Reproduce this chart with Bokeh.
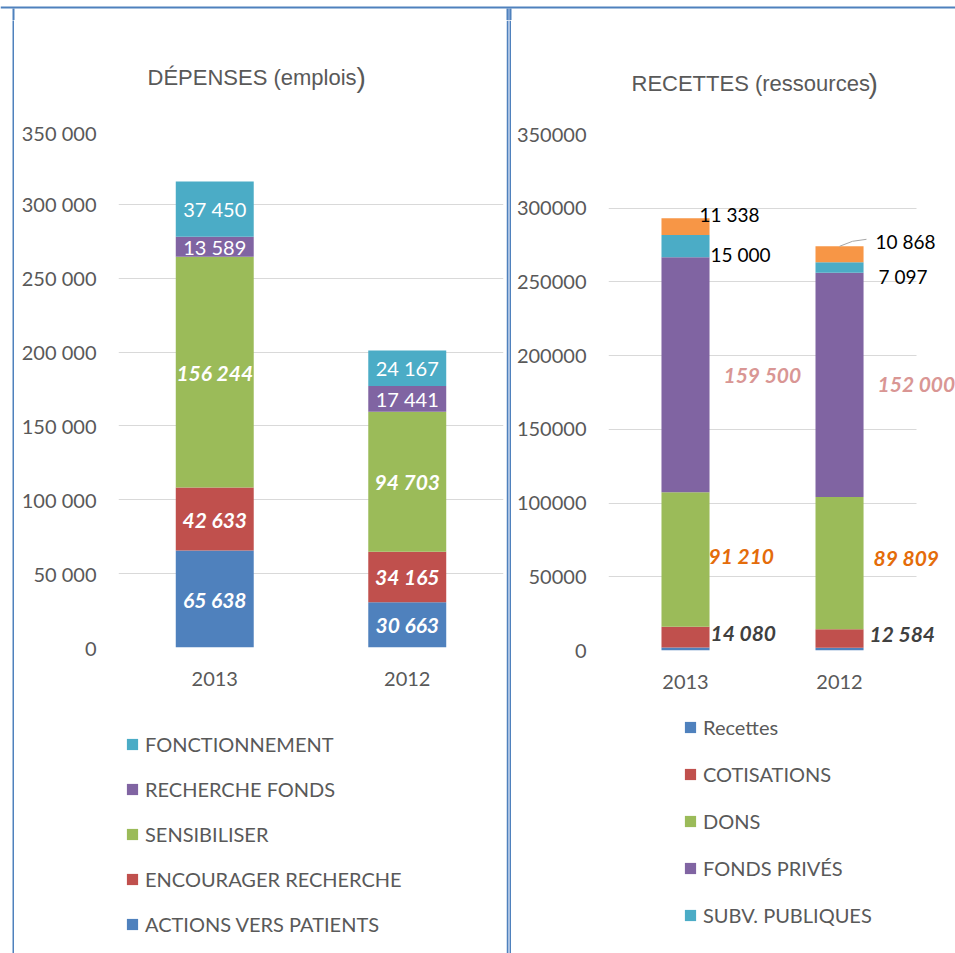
from bokeh.plotting import figure
from bokeh.models import (FactorRange, Range1d, ColumnDataSource, Legend, LegendItem,
                          Label, LabelSet, FixedTicker, BoxAnnotation)
from bokeh.layouts import row, column
from bokeh.embed import file_html
from bokeh.resources import INLINE
from bokeh.core.properties import value

# ---------------- data ----------------
years = ["2013", "2012"]

dep_series = ["ACTIONS VERS PATIENTS", "ENCOURAGER RECHERCHE", "SENSIBILISER",
              "RECHERCHE FONDS", "FONCTIONNEMENT"]
dep_actions = [65638, 30663]
dep_encourager = [42633, 34165]
dep_sensibiliser = [156244, 94703]
dep_recherche_fonds = [13589, 17441]
dep_fonctionnement = [37450, 24167]

rec_series = ["Recettes", "COTISATIONS", "DONS", "FONDS PRIVÉS", "SUBV. PUBLIQUES", "AUTRES"]
rec_recettes = [2000, 1800]
rec_cotisations = [14080, 12584]
rec_dons = [91210, 89809]
rec_fonds_prives = [159500, 152000]
rec_subv_publiques = [15000, 7097]
rec_autres = [11338, 10868]

y_ticks = [0, 50000, 100000, 150000, 200000, 250000, 300000, 350000]
left_tick_labels = ["0", "50 000", "100 000", "150 000", "200 000", "250 000", "300 000", "350 000"]
right_tick_labels = ["0", "50000", "100000", "150000", "200000", "250000", "300000", "350000"]

title_left = "DÉPENSES (emplois"
title_right = "RECETTES (ressources"

# ---------------- styles ----------------
BLUE, RED, GREEN, PURPLE, CYAN, ORANGE = "#4F81BD", "#C0504D", "#9BBB59", "#8064A2", "#4BACC6", "#F79646"
GRAY = "#595959"
GRID = "#D9D9D9"
FRAME = "#4F81BD"
FRAME_LIGHT = "#A9C2E6"
FONT = "Lato"
TFONT = "Liberation Sans"


def fmt(v):
    return f"{v:,}".replace(",", " ")


def centers(series_list):
    base = [0] * len(years)
    out = []
    for s in series_list:
        out.append([b + v / 2 for b, v in zip(base, s)])
        base = [b + v for b, v in zip(base, s)]
    return out


def strip(w, h, bl, br, bt, bb, frame_color, border_color="white"):
    f = figure(width=w, height=h, output_backend="svg", toolbar_location=None, title=None,
               x_axis_type=None, y_axis_type=None, min_border_left=bl, min_border_right=br,
               min_border_top=bt, min_border_bottom=bb)
    f.outline_line_color = None
    f.border_fill_color = border_color
    f.background_fill_color = frame_color
    return f


def box(f, l, r, b, t, color):
    f.add_layout(BoxAnnotation(left=l, right=r, bottom=b, top=t,
                               left_units="screen", right_units="screen",
                               bottom_units="screen", top_units="screen",
                               fill_color=color, fill_alpha=1, line_color=None))


def style(p, tick_labels):
    p.outline_line_color = None
    p.background_fill_color = "white"
    p.border_fill_color = "white"
    p.xgrid.grid_line_color = None
    p.ygrid.grid_line_color = GRID
    p.ygrid.grid_line_width = 1
    p.yaxis.ticker = FixedTicker(ticks=y_ticks)
    p.yaxis.major_label_overrides = {t: l for t, l in zip(y_ticks, tick_labels)}
    for ax in (p.xaxis[0], p.yaxis[0]):
        ax.axis_line_color = None
        ax.major_tick_line_color = None
        ax.minor_tick_line_color = None
        ax.major_tick_out = 0
        ax.major_tick_in = 0
        ax.major_label_text_font = FONT
        ax.major_label_text_font_size = "20px"
        ax.major_label_text_color = GRAY
    p.yaxis.major_label_standoff = 22
    p.xaxis.major_label_standoff = 24


def title_fig(w, h, bl, br, text, x, y, paren_x):
    f = strip(w, h, bl, br, 0, 0, "white")
    f.x_range = Range1d(0, 1)
    f.y_range = Range1d(0, 1)
    f.add_layout(Label(x=x, y=y, x_units="screen", y_units="screen", text=text,
                       text_font=TFONT, text_font_size="22px", text_color=GRAY,
                       text_baseline="alphabetic"))
    f.add_layout(Label(x=paren_x, y=y, x_units="screen", y_units="screen", text=")",
                       text_font=TFONT, text_font_size="28px", text_color=GRAY,
                       text_baseline="alphabetic"))
    return f


def legend_fig(w, h, bl, br, names, colors, loc, spacing):
    f = strip(w, h, bl, br, 0, 0, "white")
    f.x_range = Range1d(0, 1)
    f.y_range = Range1d(0, 1)
    items = []
    for n, c in zip(names, colors):
        r = f.vbar(x=[0], top=[0], bottom=[0], width=0, fill_color=c, line_color=None)
        items.append(LegendItem(label=n, renderers=[r]))
    leg = Legend(items=items, location=loc, orientation="vertical",
                 glyph_width=14, glyph_height=14, label_height=26, spacing=spacing,
                 padding=0, margin=0, border_line_color=None, background_fill_alpha=0,
                 label_text_font=FONT, label_text_font_size="20px",
                 label_text_color=GRAY, label_standoff=6)
    f.add_layout(leg)
    return f


TOP_H = 20
TITLE_H, CHART_H, LEGEND_H = 100, 580, 253
WL, WR = 492, 444
BL_L, BR_L = 104, 3
BL_R, BR_R = 97, 0

# ---------------- left: DÉPENSES ----------------
p1 = figure(x_range=FactorRange(*years), y_range=Range1d(0, 350000), width=WL, height=CHART_H,
            output_backend="svg", toolbar_location=None, title=None,
            min_border_left=BL_L, min_border_right=BR_L, min_border_top=10, min_border_bottom=53)
style(p1, left_tick_labels)

dep_values = [dep_actions, dep_encourager, dep_sensibiliser, dep_recherche_fonds, dep_fonctionnement]
dep_colors = [BLUE, RED, GREEN, PURPLE, CYAN]
keys1 = ["s%d" % i for i in range(len(dep_values))]
src1 = ColumnDataSource(dict(year=years, **{k: v for k, v in zip(keys1, dep_values)}))
p1.vbar_stack(keys1, x="year", width=0.405, fill_color=dep_colors, line_color=None, source=src1)

c1 = centers(dep_values)
bold_x, bold_y, bold_t, reg_x, reg_y, reg_t = [], [], [], [], [], []
for i, (vals, cen) in enumerate(zip(dep_values, c1)):
    for y, v, c in zip(years, vals, cen):
        if i < 3:
            bold_x.append(y); bold_y.append(c); bold_t.append(fmt(v))
        else:
            reg_x.append(y); reg_y.append(c); reg_t.append(fmt(v))
p1.text(x="x", y="y", text="t", source=ColumnDataSource(dict(x=bold_x, y=bold_y, t=bold_t)),
        text_align="center", text_baseline="middle", text_color="white",
        text_font=value(FONT), text_font_style="bold italic", text_font_size="21px")
p1.text(x="x", y="y", text="t", source=ColumnDataSource(dict(x=reg_x, y=reg_y, t=reg_t)),
        text_align="center", text_baseline="middle", text_color="white",
        text_font=value(FONT), text_font_size="20px")

t1 = title_fig(WL, TITLE_H, BL_L, BR_L, title_left, 29, 43, 238)
l1 = legend_fig(WL, LEGEND_H, BL_L, BR_L, list(reversed(dep_series)), list(reversed(dep_colors)),
                (7, 16), 19)

# ---------------- right: RECETTES ----------------
X_END_R = 2.253
rec_x = [i + 0.5 for i in range(len(years))]
p2 = figure(x_range=Range1d(0, X_END_R), y_range=Range1d(0, 350000), width=WR, height=CHART_H,
            output_backend="svg", toolbar_location=None, title=None,
            min_border_left=BL_R, min_border_right=BR_R, min_border_top=14, min_border_bottom=50)
style(p2, right_tick_labels)
p2.ygrid.cross_bounds = (0, len(years))
p2.xaxis.ticker = FixedTicker(ticks=rec_x)
p2.xaxis.major_label_overrides = {x: y for x, y in zip(rec_x, years)}

rec_values = [rec_recettes, rec_cotisations, rec_dons, rec_fonds_prives, rec_subv_publiques, rec_autres]
rec_colors = [BLUE, RED, GREEN, PURPLE, CYAN, ORANGE]
keys2 = ["s%d" % i for i in range(len(rec_values))]
src2 = ColumnDataSource(dict(x=rec_x, **{k: v for k, v in zip(keys2, rec_values)}))
p2.vbar_stack(keys2, x="x", width=0.312, fill_color=rec_colors, line_color=None, source=src2)

c2 = centers(rec_values)
# label offsets (pixels) per series, per year
lab_dx = {1: [25, 30], 2: [23, 34], 3: [38, 38], 4: [25, 39], 5: [14, 36]}
lab_dy = {1: [5, 5], 2: [4, 6], 3: [0, 1], 4: [-8, -9], 5: [12, 13]}
lab_color = {1: "#404040", 2: "#E46C0A", 3: "#D99694", 4: "#000000", 5: "#000000"}
bold = dict(x=[], y=[], t=[], dx=[], dy=[], c=[])
reg = dict(x=[], y=[], t=[], dx=[], dy=[], c=[])
for i in range(1, 6):
    for j in range(len(years)):
        d = bold if i <= 3 else reg
        d["x"].append(rec_x[j]); d["y"].append(c2[i][j]); d["t"].append(fmt(rec_values[i][j]))
        d["dx"].append(lab_dx[i][j]); d["dy"].append(lab_dy[i][j]); d["c"].append(lab_color[i])
p2.add_layout(LabelSet(x="x", y="y", text="t", x_offset="dx", y_offset="dy", text_color="c",
                       source=ColumnDataSource(bold), text_align="left", text_baseline="middle",
                       text_font=value(FONT), text_font_style="bold italic", text_font_size="21px"))
p2.add_layout(LabelSet(x="x", y="y", text="t", x_offset="dx", y_offset="dy", text_color="c",
                       source=ColumnDataSource(reg), text_align="left", text_baseline="middle",
                       text_font=value(FONT), text_font_size="19px"))

# leader line for the 2012 top label
tot2012 = sum(v[1] for v in rec_values)
lx = rec_x[1]
p2.line(x=[lx, lx + 0.084, lx + 0.175], y=[tot2012, tot2012 + 3400, tot2012 + 4750],
        line_color="#A6A6A6", line_width=1)

t2 = title_fig(WR, TITLE_H, BL_R, BR_R, title_right, 23, 37, 260)
l2 = legend_fig(WR, LEGEND_H, BL_R, BR_R, rec_series[:5], rec_colors[:5], (75, 25), 21)

# ---------------- frame lines & layout ----------------
BODY_H = TITLE_H + CHART_H + LEGEND_H
top = strip(955, TOP_H, 0, 0, 0, 0, "white")
top.x_range = Range1d(0, 1)
top.y_range = Range1d(0, 1)
box(top, 0, 955, TOP_H - 8, TOP_H - 6, FRAME)          # horizontal rule
box(top, 12, 14, 0, TOP_H - 8, FRAME)                  # left rule, top segment
box(top, 506, 511, 0, TOP_H - 8, FRAME)                # double rule, top segment
box(top, 508, 509, 0, TOP_H - 8, FRAME_LIGHT)
left_line = strip(14, BODY_H, 12, 0, 0, 0, FRAME)
mid_line = strip(5, BODY_H, 2, 2, 0, 0, FRAME_LIGHT, border_color=FRAME)

layout = column(top,
                row(left_line, column(t1, p1, l1), mid_line, column(t2, p2, l2)))
open("out.html", "w").write(file_html(layout, INLINE))
